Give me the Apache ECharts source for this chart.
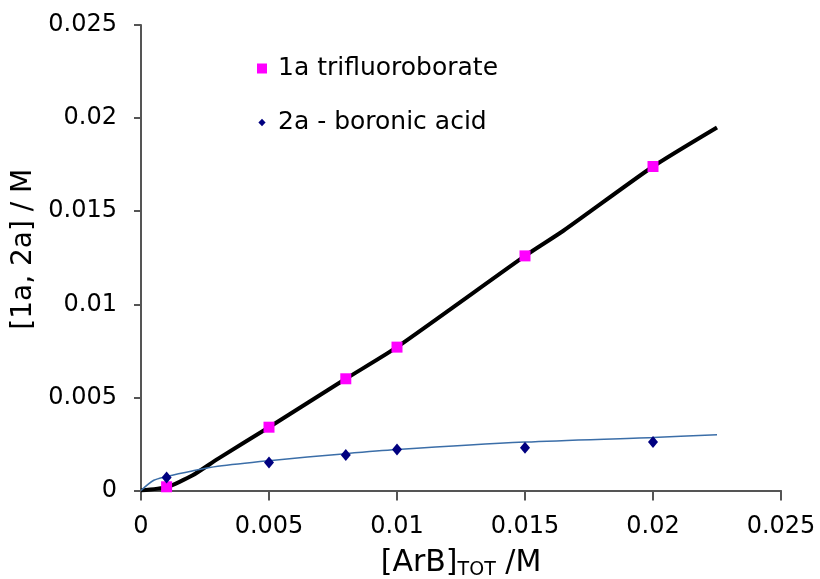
<!DOCTYPE html>
<html>
<head>
<meta charset="utf-8">
<script src="https://cdn.jsdelivr.net/npm/echarts@6/dist/echarts.min.js"></script>
<style>
  html, body { margin: 0; padding: 0; background: #fff; }
  #chart { width: 820px; height: 579px; }
</style>
</head>
<body>
<div id="chart"></div>
<script>
  // measured points
  var xPoints = [0.001, 0.005, 0.008, 0.01, 0.015, 0.02];
  var trifluoroborate = [0.0002, 0.0034, 0.0060, 0.0077, 0.0126, 0.0174];
  var boronicAcid = [0.0007, 0.0015, 0.0019, 0.0022, 0.0023, 0.0026];

  // fitted curves
  var fitX1 = [0, 0.001, 0.002, 0.003, 0.005, 0.008, 0.01, 0.015, 0.0165, 0.02, 0.0225];
  var fitY1 = [0, 0.00018, 0.0008, 0.0017, 0.0034, 0.0060, 0.0077, 0.0126, 0.01395, 0.0174, 0.0195];
  var fitX2 = [0, 0.0005, 0.001, 0.002, 0.003, 0.005, 0.008, 0.01, 0.015, 0.02, 0.0225];
  var fitY2 = [0, 0.00055, 0.00075, 0.00105, 0.0013, 0.0016, 0.00198, 0.0022, 0.0026, 0.00285, 0.003];

  var font = 'DejaVu Sans';

  function pairs(xs, ys) {
    return xs.map(function (x, i) { return [x, ys[i]]; });
  }

  var myChart = echarts.init(document.getElementById('chart'));
  var option = {
    animation: false,
    grid: { left: 141, right: 39, top: 25, bottom: 88.5, containLabel: false, outerBoundsMode: 'none' },
    legend: {
      orient: 'vertical',
      left: 252,
      top: 51,
      itemGap: 29,
      itemWidth: 10,
      itemHeight: 10,
      data: [
        { name: '1a trifluoroborate', icon: 'rect', itemStyle: { color: '#ff00ff' } },
        // diamond drawn smaller inside the 10x10 box
        { name: '2a - boronic acid', icon: 'path://M0,0M10,10M5,1.2L8.6,5L5,8.8L1.4,5Z', itemStyle: { color: '#000080' } }
      ],
      textStyle: { fontFamily: font, fontSize: 25, color: '#000', padding: [0, 0, 0, 6] }
    },
    xAxis: {
      type: 'value',
      min: 0, max: 0.025, interval: 0.005,
      splitLine: { show: false },
      axisLine: { lineStyle: { color: '#555', width: 2 } },
      axisTick: { length: 10, lineStyle: { color: '#555', width: 2 } },
      axisLabel: { fontFamily: font, fontSize: 24, color: '#000', margin: 24 },
      name: '[ArB]{sub|TOT} /M',
      nameLocation: 'middle',
      nameGap: 56,
      nameTextStyle: {
        fontFamily: font, fontSize: 30, color: '#000',
        rich: { sub: { fontFamily: font, fontSize: 19, color: '#000', verticalAlign: 'bottom', padding: [14, 0, 0, 0] } }
      }
    },
    yAxis: {
      type: 'value',
      min: 0, max: 0.025, interval: 0.005,
      splitLine: { show: false },
      axisLine: { show: true, lineStyle: { color: '#555', width: 2 } },
      axisTick: { show: true, length: 7, lineStyle: { color: '#555', width: 2 } },
      axisLabel: { fontFamily: font, fontSize: 24, color: '#000', margin: 24 },
      name: '[1a, 2a] / M',
      nameLocation: 'middle',
      nameGap: 101,
      nameTextStyle: { fontFamily: font, fontSize: 28, color: '#000', padding: [0, 0, 0, 17] }
    },
    series: [
      {
        name: 'fit1', type: 'line', data: pairs(fitX1, fitY1), smooth: 0.2,
        showSymbol: false, lineStyle: { color: '#000', width: 4 }, z: 2, silent: true
      },
      {
        name: 'fit2', type: 'line', data: pairs(fitX2, fitY2), smooth: 0.3,
        showSymbol: false, lineStyle: { color: '#3b6ea8', width: 1.5 }, z: 2, silent: true
      },
      {
        name: '1a trifluoroborate', type: 'scatter', data: pairs(xPoints, trifluoroborate),
        symbol: 'rect', symbolSize: 11, itemStyle: { color: '#ff00ff', opacity: 1 }, z: 3
      },
      {
        name: '2a - boronic acid', type: 'scatter', data: pairs(xPoints, boronicAcid),
        symbol: 'diamond', symbolSize: [10, 12], itemStyle: { color: '#000080', opacity: 1 }, z: 3
      }
    ]
  };
  myChart.setOption(option);
</script>
</body>
</html>
